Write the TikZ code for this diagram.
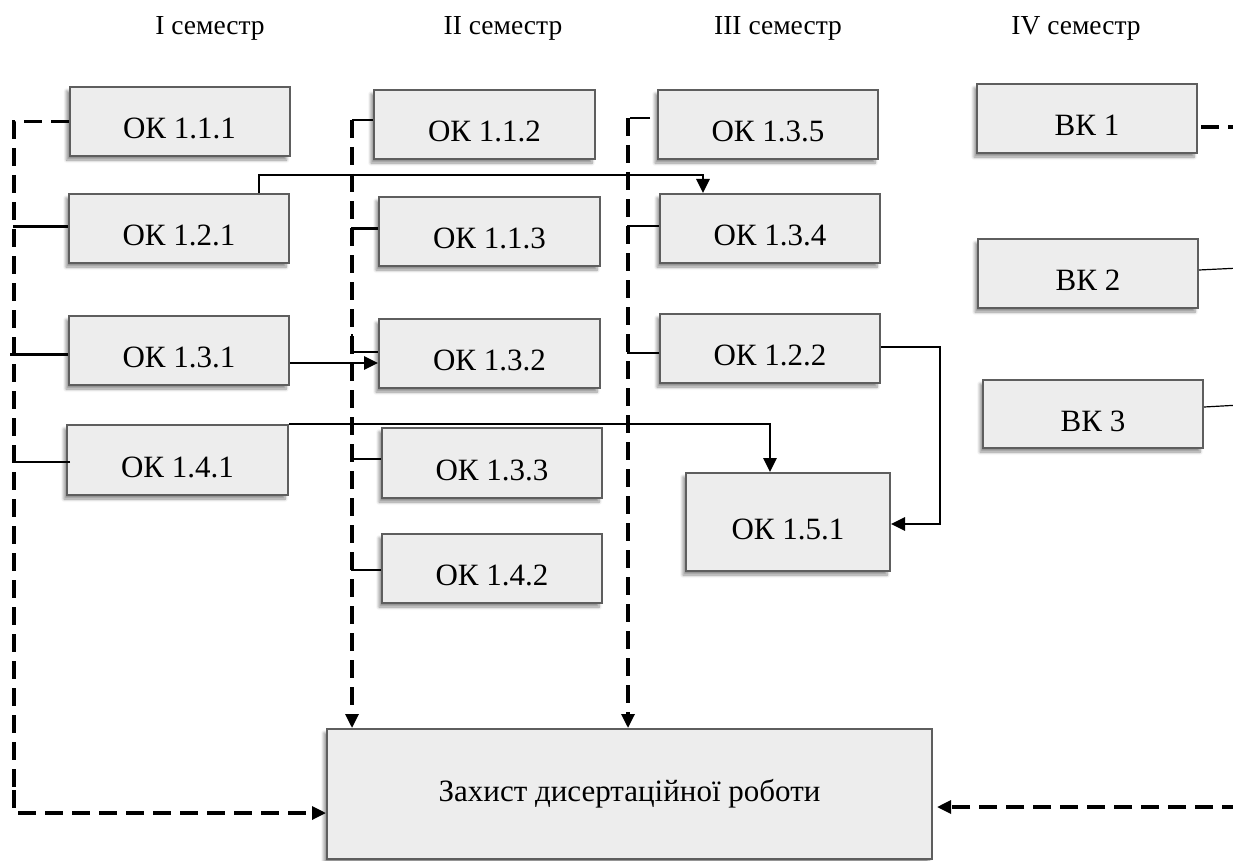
\documentclass[tikz,border=0pt]{standalone}
\usepackage{fontspec}
\setmainfont{Liberation Serif}
\usetikzlibrary{calc,arrows.meta,shadows.blur}
\definecolor{boxfill}{HTML}{EDEDED}
\definecolor{boxline}{HTML}{5E5E5E}
\tikzset{
  basebox/.style={draw=boxline, fill=boxfill, line width=2pt, inner sep=0pt,
    font=\fontsize{31}{36}\selectfont,
    blur shadow={shadow xshift=-3pt, shadow yshift=-4pt, shadow blur steps=6, shadow opacity=45, shadow blur radius=3pt}},
  box/.style={basebox, minimum width=220pt, minimum height=69pt,
    text height=34pt, text depth=0pt},
  head/.style={font=\fontsize{27.5}{32}\selectfont, inner sep=0pt},
  conn/.style={line width=2.7pt},
  stub/.style={line width=2.2pt},
  thin/.style={line width=1.2pt},
  dsh/.style={line width=3.2pt, dash pattern=on 18pt off 9pt},
  arr/.style={-{Triangle[length=14pt,width=13pt]}},
}
\begin{document}
\begin{tikzpicture}[x=1pt,y=-1pt]
\useasboundingbox (0,0) rectangle (1233,861);
\clip (0,0) rectangle (1233,861);
% headers
\node[head] (h1) at (210,28) {I семестр};
\node[head] (h2) at (503,28) {II семестр};
\node[head] (h3) at (778,28) {III семестр};
\node[head] (h4) at (1076,28) {IV семестр};
% column 1
\node[box] (ok111) at (179.5,121.5) {ОК 1.1.1};
\node[box] (ok121) at (179,228.5) {ОК 1.2.1};
\node[box] (ok131) at (179,350.5) {ОК 1.3.1};
\node[box, minimum width=221pt, minimum height=70pt] (ok141) at (177.5,460) {ОК 1.4.1};
% column 2
\node[box, minimum width=221pt] (ok112) at (484.5,124.5) {ОК 1.1.2};
\node[box, minimum width=221pt] (ok113) at (489.5,231.5) {ОК 1.1.3};
\node[box, minimum width=221pt] (ok132) at (489.5,353.5) {ОК 1.3.2};
\node[box, minimum height=70pt] (ok133) at (492,463) {ОК 1.3.3};
\node[box] (ok142) at (492,568.5) {ОК 1.4.2};
% column 3
\node[box] (ok135) at (768,124.5) {ОК 1.3.5};
\node[box] (ok134) at (770,228.5) {ОК 1.3.4};
\node[box] (ok122) at (770,348.5) {ОК 1.2.2};
\node[box, minimum width=204pt, minimum height=98pt] (ok151) at (788,522) {ОК 1.5.1};
% column 4
\node[box] (vk1) at (1087,118.5) {ВК 1};
\node[box] (vk2) at (1088,273.5) {ВК 2};
\node[box, minimum height=68pt] (vk3) at (1093,414) {ВК 3};
% final box
\node[basebox, minimum width=605pt, minimum height=130pt] (big) at (629.5,794) {Захист дисертаційної роботи};

% column 1 dashed collector
\coordinate (cL) at (14,813);
\draw[dsh] (ok111.west) -| (14,790);
\draw[dsh, arr] (14,790) |- (cL -| big.west);
\draw[stub] ($(ok121.west)+(0,-2)$) -- ++(-55,0);
\draw[stub] ($(ok131.west)+(0,4)$) -- ++(-58,0);
\draw[stub] ($(ok141.west)+(4,2)$) -- ++(-55,0);

% column 2 dashed collector
\coordinate (c2t) at (352,120);
\draw[stub] ($(ok112.west)+(0,-4.5)$) -- (c2t);
\draw[dsh, arr] (c2t) -- (c2t |- big.north);
\draw[stub] ($(ok113.west)+(0,-3)$) -- ++(-27,0);
\draw[stub] (352,334) |- ($(ok132.west)+(0,-1.5)$);
\draw[stub] ($(ok133.west)+(0,-4)$) -- ++(-30,0);
\draw[stub] ($(ok142.west)+(0,1.5)$) -- ++(-30,0);

% column 3 dashed collector
\coordinate (c3t) at (628,118);
\draw[stub] ($(ok135.west)+(-7,-6.5)$) -- ($(c3t)+(2,0)$);
\draw[dsh, arr] (c3t) -- (c3t |- big.north);
\draw[stub] ($(ok134.west)+(0,-2.5)$) -- ++(-32,0);
\draw[stub] ($(ok122.west)+(0,4.5)$) -- ++(-32,0);

% solid arrows
\draw[conn, arr] ($(ok121.north)+(80,0)$) -- ++(0,-18) -| ($(ok134.north)+(-67,0)$);
\coordinate (a31) at ($(ok131.east)+(0,12.5)$);
\draw[conn, arr] (a31) -- (a31 -| ok132.west);
\draw[conn, arr] (ok141.north east) -| ($(ok151.north)+(-18,0)$);
\draw[conn, arr] ($(ok122.east)+(0,-1.5)$) -- (940,347) |- ($(ok151.east)+(0,2)$);

% column 4 leaving the page
\draw[dsh] ($(vk1.east)+(3,8.5)$) -- ++(60,0);
\draw[thin] ($(vk2.east)+(0,-3.5)$) -- (1240,268);
\draw[thin] ($(vk3.east)+(0,-7)$) -- (1240,405);
\coordinate (cR) at (1240,807);
\draw[dsh, arr] (cR) -- ($(cR -| big.east)+(4,0)$);
\end{tikzpicture}
\end{document}
